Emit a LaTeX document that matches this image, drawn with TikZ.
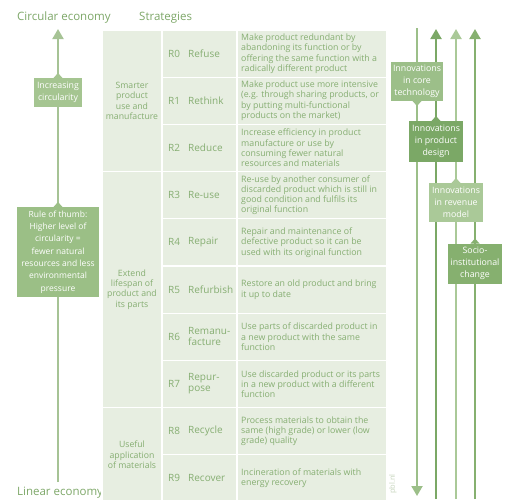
\documentclass[tikz,border=0pt]{standalone}
\usepackage{fontspec}
\setmainfont{Open Sans}
\usetikzlibrary{arrows.meta}

\definecolor{tablebg}{HTML}{E7EEE1}
\definecolor{txtgreen}{HTML}{86AE72}
\definecolor{headgreen}{HTML}{7DA768}
\definecolor{leftline}{HTML}{A6C395}
\definecolor{circbox}{HTML}{A5C591}
\definecolor{rulebox}{HTML}{9BBF86}
\definecolor{corebox}{HTML}{9CBF89}
\definecolor{designbox}{HTML}{7BA866}
\definecolor{revbox}{HTML}{AAC998}
\definecolor{sociobox}{HTML}{86B06F}
\definecolor{pblgrey}{HTML}{C5D4BB}

\begin{document}
\begin{tikzpicture}[x=1pt,y=-1pt,
  cell/.style={draw=white, line width=1.3pt, fill=tablebg, inner sep=0pt, outer sep=0pt, anchor=north west},
  desc/.style={font=\fontsize{8.8}{10.3}\selectfont, text=txtgreen, align=left, anchor=west, inner sep=0pt},
  rcode/.style={font=\fontsize{10}{10.8}\selectfont, text=txtgreen, anchor=west, inner sep=0pt},
  rname/.style={font=\fontsize{10}{10.8}\selectfont, text=txtgreen, anchor=west, align=left, inner sep=0pt},
  cat/.style={font=\fontsize{8.7}{10.2}\selectfont, text=txtgreen, align=center, inner sep=0pt},
  head/.style={font=\fontsize{11.5}{13}\selectfont, text=headgreen, inner sep=0pt},
  infobox/.style={text=white, align=center, font=\fontsize{8.8}{12.3}\selectfont, inner sep=0pt, outer sep=0pt},
  flow/.style={line width=2pt},
  tipup/.style={-{Triangle[width=11pt,length=10pt]}},
]
\useasboundingbox (0,0) rectangle (505,499);
\begin{scope}
\clip (0,0) rectangle (505,499);

% ---------- headings ----------
\node[head, anchor=west] (hcirc) at (17,18) {Circular economy};
\node[head, anchor=west] (hstrat) at (139,18) {Strategies};
\node[head, anchor=base west] (hlin) at (17,495.5) {Linear economy};

% ---------- strategy table ----------
% category column
\node[cell, minimum width=60pt, minimum height=141.6pt] (g1) at (102,30) {};
\node[cell, minimum width=60pt, minimum height=236pt] (g2) at (102,171.6) {};
\node[cell, minimum width=60pt, minimum height=94.4pt] (g3) at (102,407.6) {};
\node[cat] (g1t) at (g1.center) {Smarter\\product\\use and\\manufacture};
\node[cat] (g2t) at (g2.center) {Extend\\lifespan of\\product and\\its parts};
\node[cat] (g3t) at (g3.center) {Useful\\application\\of materials};

% strategy rows: code, name, description
\foreach \i/\code/\name/\txt in {
  0/R0/Refuse/{Make product redundant by\\abandoning its function or by\\offering the same function with a\\radically different product},
  1/R1/Rethink/{Make product use more intensive\\(e.g. through sharing products, or\\by putting multi-functional\\products on the market)},
  2/R2/Reduce/{Increase efficiency in product\\manufacture  or use by\\consuming fewer natural\\resources and materials},
  3/R3/Re-use/{Re-use by another consumer of\\discarded product which is still in\\good condition and fulfils its\\original function},
  4/R4/Repair/{Repair and maintenance of\\defective product so it can be\\used with its original function},
  5/R5/Refurbish/{Restore an old product and bring\\it up to date},
  6/R6/{Remanu-\\facture}/{Use parts of discarded product in\\a new product with the same\\function},
  7/R7/{Repur-\\pose}/{Use discarded product or its parts\\in a new product with a different\\function},
  8/R8/Recycle/{Process materials to obtain the\\same (high grade) or lower (low\\grade) quality},
  9/R9/Recover/{Incineration of materials with\\energy recovery}} {
  \pgfmathsetmacro{\top}{30+47.2*\i}
  \node[cell, minimum width=75pt, minimum height=47.2pt] (s\i) at (162,\top) {};
  \node[cell, minimum width=150pt, minimum height=47.2pt] (d\i) at (237,\top) {};
  \node[rcode] (c\i) at ([xshift=6pt]s\i.west) {\code};
  \node[rname] (n\i) at ([xshift=26pt]s\i.west) {\name};
  \node[desc] (t\i) at ([xshift=4pt]d\i.west) {\txt};
}

\node[font=\fontsize{7.5}{8}\selectfont, text=pblgrey, rotate=90, inner sep=0pt] (pbl) at (393,484) {pbl.nl};

% ---------- left axis: linear to circular ----------
\coordinate (axbot) at (58,482);
\coordinate (axtop) at (58,29);
\draw[flow, leftline, tipup] (axbot) -- (axtop);

\node[infobox, fill=circbox, minimum width=48pt, minimum height=29pt] (incr) at (58,92.5) {Increasing\\circularity};
\fill[circbox] ([xshift=-4.5pt]incr.north) -- ([yshift=5pt]incr.north) -- ([xshift=4.5pt]incr.north) -- cycle;

\node[infobox, fill=rulebox, minimum width=82pt, minimum height=90pt, font=\fontsize{8.5}{12.3}\selectfont] (rule) at (58,252) {Rule of thumb:\\Higher level of\\circularity =\\fewer natural\\resources and less\\environmental\\pressure};
\fill[rulebox] ([xshift=-4.5pt]rule.north) -- ([yshift=5pt]rule.north) -- ([xshift=4.5pt]rule.north) -- cycle;

% ---------- innovation transitions ----------
\coordinate (v1top) at (417,28);
\coordinate (v1bot) at (417,496);
\coordinate (v2top) at (436,29);
\coordinate (v2bot) at (436,499);
\coordinate (v3top) at (456,29);
\coordinate (v3bot) at (456,499);
\coordinate (v4top) at (475,29);
\coordinate (v4bot) at (475,499);

\draw[flow, corebox, tipup] (v1top) -- (v1bot);
\draw[flow, designbox, tipup] (v2bot) -- (v2top);
\draw[flow, revbox, tipup] (v3bot) -- (v3top);
\draw[flow, sociobox, tipup] (v4bot) -- (v4top);

\node[infobox, fill=corebox, minimum width=52pt, minimum height=39pt] (core) at (417,81.5) {Innovations\\in core\\technology};
\fill[corebox] ([xshift=-4.5pt]core.south) -- ([yshift=-5pt]core.south) -- ([xshift=4.5pt]core.south) -- cycle;

\node[infobox, fill=designbox, minimum width=54pt, minimum height=41pt] (design) at (436,141.5) {Innovations\\in product\\design};
\fill[designbox] ([xshift=-4.5pt]design.north) -- ([yshift=5pt]design.north) -- ([xshift=4.5pt]design.north) -- cycle;

\node[infobox, fill=revbox, minimum width=54pt, minimum height=39pt] (rev) at (456,202.5) {Innovations\\in revenue\\model};
\fill[revbox] ([xshift=-4.5pt]rev.north) -- ([yshift=5pt]rev.north) -- ([xshift=4.5pt]rev.north) -- cycle;

\node[infobox, fill=sociobox, minimum width=54pt, minimum height=40pt] (socio) at (475,263.5) {Socio-\\institutional\\change};
\fill[sociobox] ([xshift=-4.5pt]socio.north) -- ([yshift=5pt]socio.north) -- ([xshift=4.5pt]socio.north) -- cycle;

\end{scope}
\end{tikzpicture}
\end{document}
